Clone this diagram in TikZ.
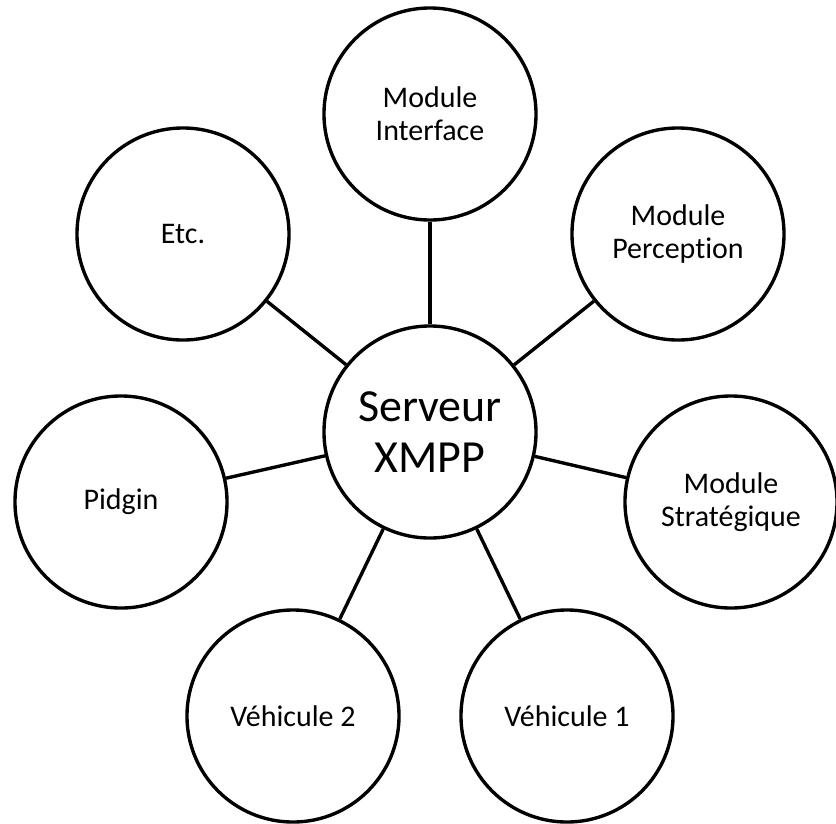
\documentclass[tikz,border=0pt]{standalone}
\usepackage{fontspec}
\setmainfont[Ligatures=NoCommon]{Carlito}
\usepackage{tikz}

\tikzset{
  module/.style={circle, draw, line width=2.4pt, minimum size=5.3cm, inner sep=0pt,
    align=center, font=\fontsize{21.3}{23.5}\selectfont},
  lien/.style={line width=2.4pt}
}

\begin{document}
\begin{tikzpicture}[x=0.025cm, y=-0.025cm]

\useasboundingbox (0, 0) rectangle (836, 823);

%Serveur
\node[module, font=\fontsize{32.7}{36.3}\selectfont] (serveur) at (430, 432) {Serveur\\XMPP};

%Clients
\node[module] (interface) at (430, 114) {Module\\Interface};
\node[module] (perception) at (678, 234) {Module\\Perception};
\node[module] (strategie) at (731, 502) {Module\\Stratégique};
\node[module] (vehicule1) at (567, 716) {Véhicule 1};
\node[module] (vehicule2) at (293, 716) {Véhicule 2};
\node[module] (pidgin) at (121, 502) {Pidgin};
\node[module] (etc) at (183, 234) {Etc.};

%Liens
\draw[lien] (serveur) -- (interface);
\draw[lien] (serveur) -- (perception);
\draw[lien] (serveur) -- (strategie);
\draw[lien] (serveur) -- (vehicule1);
\draw[lien] (serveur) -- (vehicule2);
\draw[lien] (serveur) -- (pidgin);
\draw[lien] (serveur) -- (etc);

\end{tikzpicture}
\end{document}
